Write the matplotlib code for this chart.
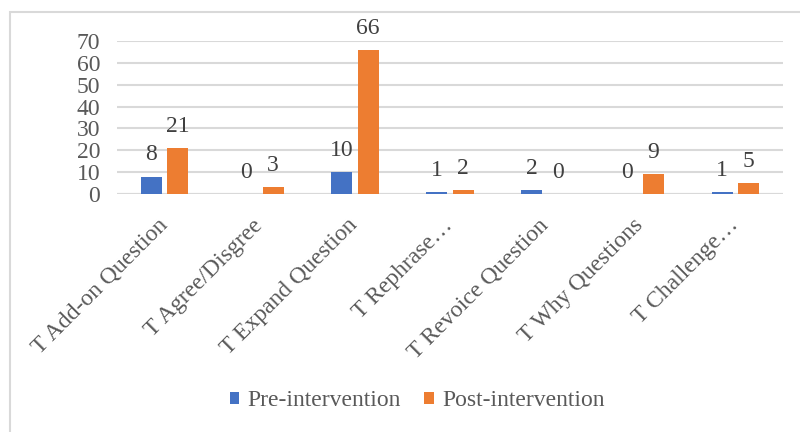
import matplotlib.pyplot as plt
import numpy as np
from matplotlib.patches import Rectangle

categories = [
    "T Add-on Question",
    "T Agree/Disgree",
    "T Expand Question",
    "T Rephrase\u2026",
    "T Revoice Question",
    "T Why Questions",
    "T Challenge\u2026",
]
pre_values = [8, 0, 10, 1, 2, 0, 1]
post_values = [21, 3, 66, 2, 0, 9, 5]
series_names = ["Pre-intervention", "Post-intervention"]

PRE_COLOR = "#4472C4"
POST_COLOR = "#ED7D31"
TEXT_COLOR = "#595959"
LABEL_COLOR = "#404040"
GRID_COLOR = "#D9D9D9"
FONT_SIZE = 17

plt.rcParams.update({"font.family": ["Liberation Serif", "DejaVu Serif"]})

fig = plt.figure(figsize=(8, 4.32), dpi=100)
fig.patch.set_facecolor("white")
# chart frame
fig.add_artist(Rectangle((10 / 800, -0.05), 1.0, 1 - 12 / 432 + 0.05,
                         transform=fig.transFigure, fill=False,
                         edgecolor=GRID_COLOR, linewidth=1.5))

ax = fig.add_axes([117 / 800, 1 - 194 / 432, (783 - 117) / 800, (194 - 41) / 432])

x = np.arange(len(categories))
width = 0.22
offset = 0.14
bars_pre = ax.bar(x - offset, pre_values, width, color=PRE_COLOR, label=series_names[0], zorder=3)
bars_post = ax.bar(x + offset, post_values, width, color=POST_COLOR, label=series_names[1], zorder=3)

for bars, vals in ((bars_pre, pre_values), (bars_post, post_values)):
    for bar, v in zip(bars, vals):
        ax.annotate(str(v), (bar.get_x() + bar.get_width() / 2, v),
                    xytext=(0, 8), textcoords="offset points",
                    ha="center", va="bottom", fontsize=FONT_SIZE, color=LABEL_COLOR)

ax.set_xlim(-0.5, len(categories) - 0.5)
ax.set_ylim(0, 70)
ax.set_yticks(range(0, 71, 10))
ax.yaxis.grid(True, color=GRID_COLOR, linewidth=1.5, zorder=0)
ax.set_axisbelow(True)
for spine in ax.spines.values():
    spine.set_visible(False)
ax.axhline(0, color=GRID_COLOR, linewidth=1.5, zorder=2)

ax.tick_params(axis="y", length=0, pad=12, labelsize=FONT_SIZE, labelcolor=TEXT_COLOR)
ax.tick_params(axis="x", length=0, pad=15)
# rotated labels hang down-left from just right of the category centre
ax.set_xticks(x - 0.08)
ax.set_xticklabels(categories, rotation=45, ha="right", rotation_mode="anchor",
                   fontsize=FONT_SIZE, color=TEXT_COLOR)

fig.legend(handles=[bars_pre, bars_post], loc="center", bbox_to_anchor=(417 / 800, 1 - 401 / 432),
           ncol=2, frameon=False, fontsize=FONT_SIZE, labelcolor=TEXT_COLOR,
           handlelength=0.4, handleheight=0.4, handletextpad=0.35, columnspacing=1.0)

fig.savefig("out.png", dpi=100, facecolor="white")
